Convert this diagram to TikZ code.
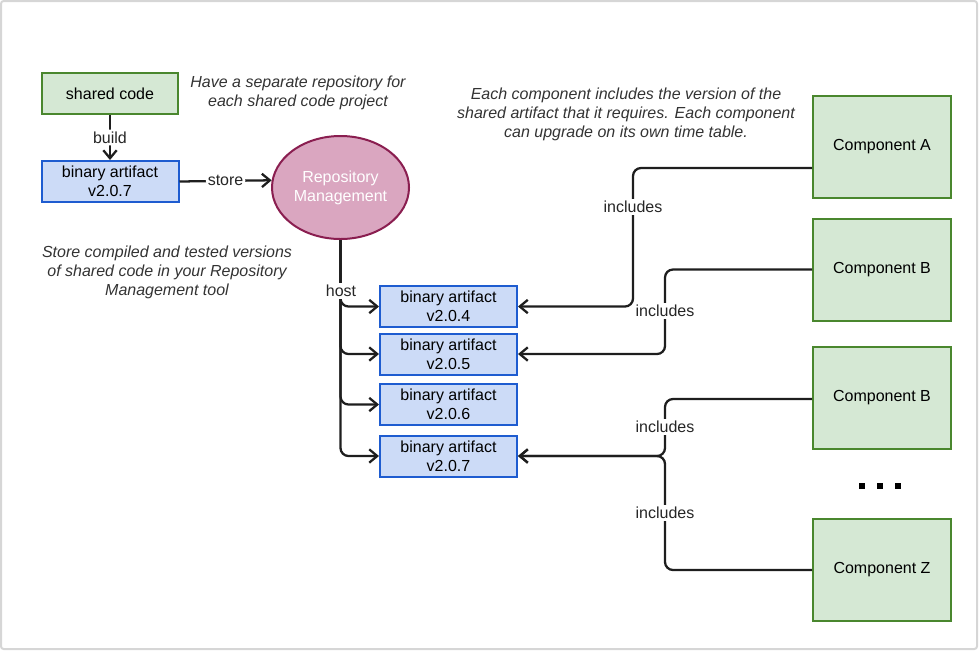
\documentclass[tikz,border=0pt]{standalone}
\usepackage{fontspec}
\setmainfont{Liberation Sans}
\usetikzlibrary{arrows,arrows.meta}
\usetikzlibrary{shapes.geometric}
\definecolor{codegreen}{RGB}{213,232,212}
\definecolor{codegreenline}{RGB}{74,135,46}
\definecolor{artblue}{RGB}{204,219,247}
\definecolor{artblueline}{RGB}{30,92,208}
\definecolor{repopink}{RGB}{218,166,192}
\definecolor{repoline}{RGB}{138,30,80}
\definecolor{framegrey}{RGB}{214,214,214}
\definecolor{conngrey}{RGB}{30,30,30}
\newcommand{\picfont}{\fontsize{12}{14.25}\selectfont}
\tikzset{
	greenbox/.style={draw=codegreenline, fill=codegreen, line width=1.5pt, minimum width=102pt, minimum height=30.75pt, inner sep=0pt},
	compbox/.style={greenbox, minimum width=103.5pt, minimum height=76.5pt},
	artifact/.style={draw=artblueline, fill=artblue, line width=1.5pt, minimum width=102.75pt, minimum height=30.75pt, inner sep=0pt, align=center},
	conn/.style={conngrey, line width=1.7pt, rounded corners=6pt, -{Straight Barb[length=6pt,width=10pt]}},
	lbl/.style={fill=white, inner sep=1.5pt, text=black!85},
	note/.style={align=center, font=\picfont\itshape, text=black!80}
}

\begin{document}
\begin{tikzpicture}[x=0.75pt, y=-0.75pt, font=\picfont]
	\useasboundingbox (0,0) rectangle (979,651);
	\draw[framegrey, line width=1.5pt, rounded corners=2pt] (1,1) rectangle (977,649);

		% left side
		\node[greenbox] (shared) at (110,93.5) {shared code};
		\node[artifact] (bin207) at (110,181.5) {binary artifact\\v2.0.7};
		\node[draw=repoline, fill=repopink, line width=1.5pt, ellipse, minimum width=102.75pt, minimum height=77.25pt, inner sep=0pt, align=center, text=white] (repo) at (340.5,187.5) {Repository\\Management};
		\draw[conn] (shared) -- node[lbl] {build} (bin207);
		\draw[conn] (bin207.east) -- node[lbl] {store} (repo.174);

		\node[note] (notesep) at (298,92.5) {Have a separate repository for\\each shared code project};
		\node[note] (notestore) at (167,272) {Store compiled and tested versions\\of shared code in your Repository\\Management tool};

		% hosted artifacts
		\node[artifact] (bin204) at (448.5,306.5) {binary artifact\\v2.0.4};
		\node[artifact] (bin205) at (448.5,354) {binary artifact\\v2.0.5};
		\node[artifact] (bin206) at (448.5,404.5) {binary artifact\\v2.0.6};
		\node[artifact] (bin207b) at (448.5,456) {binary artifact\\v2.0.7};
		\draw[conn] (repo.south) |- (bin204.west);
		\draw[conn] (repo.south) |- (bin205.west);
		\draw[conn] (repo.south) |- (bin206.west);
		\draw[conn] (repo.south) |- (bin207b.west);
		\node[lbl] (host) at (341,291) {host};

		% components
		\node[compbox] (compA) at (882,147) {Component A};
		\node[compbox] (compB) at (882,269.5) {Component B};
		\node[compbox] (compBb) at (882,398) {Component B};
		\node[compbox] (compZ) at (882,570) {Component Z};
		\foreach \dx in {862,880,898}
			\fill[black] (\dx-3,483) rectangle (\dx+3,489);

		\node[note] (noteinc) at (626,114) {Each component includes the version of the\\shared artifact that it requires. Each component\\can upgrade on its own time table.};

		\draw[conn] ([yshift=-15.75pt]compA.west) -| (633,207) node[lbl] {includes} |- (bin204.east);
		\draw[conn] (compB.west) -| (665,311) node[lbl] {includes} |- (bin205.east);
		\draw[conn] ([yshift=-0.75pt]compBb.west) -| (665,427) node[lbl] {includes} |- (bin207b.east);
		\draw[conn] (compZ.west) -| (665,513) node[lbl] {includes} |- (bin207b.east);

\end{tikzpicture}
\end{document}
